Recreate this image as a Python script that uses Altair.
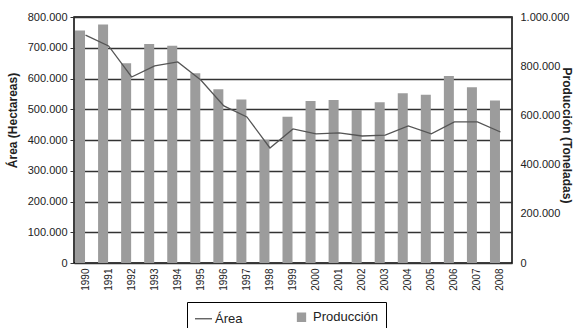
import altair as alt
import pandas as pd

# Serie anual 1990-2008
anios = [str(a) for a in range(1990, 2009)]
area_ha = [741000, 706000, 605000, 641000, 654000, 595000, 511000, 475000, 374000,
           436000, 420000, 423000, 413000, 416000, 446000, 420000, 459000, 459000, 426000]
produccion_t = [945000, 970000, 812000, 890000, 883000, 771000, 706000, 665000, 500000,
                595000, 659000, 663000, 622000, 653000, 690000, 684000, 760000, 714000, 661000]
series = ["Área", "Producción"]

df = pd.DataFrame({"anio": anios, "area": area_ha, "produccion": produccion_t})
df_series = pd.DataFrame({"serie": series})

FONT = "Liberation Sans"
TXT = "#222222"
GRIS_BARRA = "#9c9c9c"
GRIS_LINEA = "#555555"
fmt_miles = "replace(format(datum.value, ','), regexp(',', 'g'), '.')"

base = alt.Chart(df)

x_enc = alt.X(
    "anio:O",
    scale=alt.Scale(paddingInner=0, paddingOuter=0),
    axis=alt.Axis(title=None, labelAngle=270, labelAlign="right", labelBaseline="middle",
                  labelFontSize=10, labelColor=TXT, labelFont=FONT, ticks=False,
                  labelPadding=5, domain=False, grid=False),
)

barras = base.mark_bar(width=10, xOffset=-5.5, color=GRIS_BARRA).encode(
    x=x_enc,
    y=alt.Y("produccion:Q",
            scale=alt.Scale(domain=[0, 1000000], nice=False),
            axis=alt.Axis(orient="right", values=list(range(0, 1000001, 200000)),
                          labelExpr=fmt_miles, grid=False, ticks=False, domain=False,
                          labelPadding=8, labelFontSize=11, labelColor=TXT, labelFont=FONT,
                          title="Producción (Toneladas)", titleAngle=90, titleX=54, titleY=118,
                          titleAlign="center", titleBaseline="middle", titleFontSize=12,
                          titleFont=FONT, titleColor=TXT, titleFontWeight="bold")),
)

linea = base.mark_line(strokeWidth=1.3, color=GRIS_LINEA).encode(
    x=x_enc,
    y=alt.Y("area:Q",
            scale=alt.Scale(domain=[0, 800000], nice=False),
            axis=alt.Axis(orient="left", values=list(range(0, 800001, 100000)),
                          labelExpr=fmt_miles, grid=True, gridColor="#333333", gridWidth=1.5,
                          ticks=True, tickSize=4, tickColor="#333333", domain=False,
                          labelPadding=3, labelFontSize=11, labelColor=TXT, labelFont=FONT,
                          title="Área (Hectareas)", titleAngle=270, titleX=-62, titleY=103,
                          titleAlign="center", titleBaseline="middle", titleFontSize=12,
                          titleFont=FONT, titleColor=TXT, titleFontWeight="bold")),
)

# Leyenda: una capa sin marcas visibles que sólo aporta las escalas de la leyenda
leyenda = alt.Legend(
    title=None, orient="none", legendX=113, legendY=285, direction="horizontal",
    columns=2, columnPadding=49, labelOffset=2, labelFontSize=13, labelFont=FONT,
    labelColor=TXT, padding=7, strokeColor="#000000", fillColor="#ffffff",
    symbolStrokeWidth=1.3, symbolOpacity=1,
)
capa_leyenda = alt.Chart(df_series).transform_filter("false").mark_point(opacity=1).encode(
    x=alt.value(0),
    y=alt.value(0),
    shape=alt.Shape("serie:N", scale=alt.Scale(domain=series, range=["stroke", "square"]),
                    legend=leyenda),
    fill=alt.Fill("serie:N", scale=alt.Scale(domain=series, range=["transparent", GRIS_BARRA]),
                  legend=leyenda),
    stroke=alt.Stroke("serie:N", scale=alt.Scale(domain=series, range=[GRIS_LINEA, GRIS_BARRA]),
                      legend=leyenda),
    size=alt.Size("serie:N", scale=alt.Scale(domain=series, range=[289, 64]), legend=leyenda),
)

chart = (
    alt.layer(barras, linea, capa_leyenda)
    .resolve_scale(y="independent")
    .properties(width=438, height=246, autosize=alt.AutoSizeParams(type="none"),
                padding={"left": 74, "top": 17, "right": 61, "bottom": 65},
                background="#ffffff")
    .configure_view(stroke="#000000", strokeWidth=1.5)
)

chart.save("out.html", embed_options={"renderer": "svg", "actions": False})
